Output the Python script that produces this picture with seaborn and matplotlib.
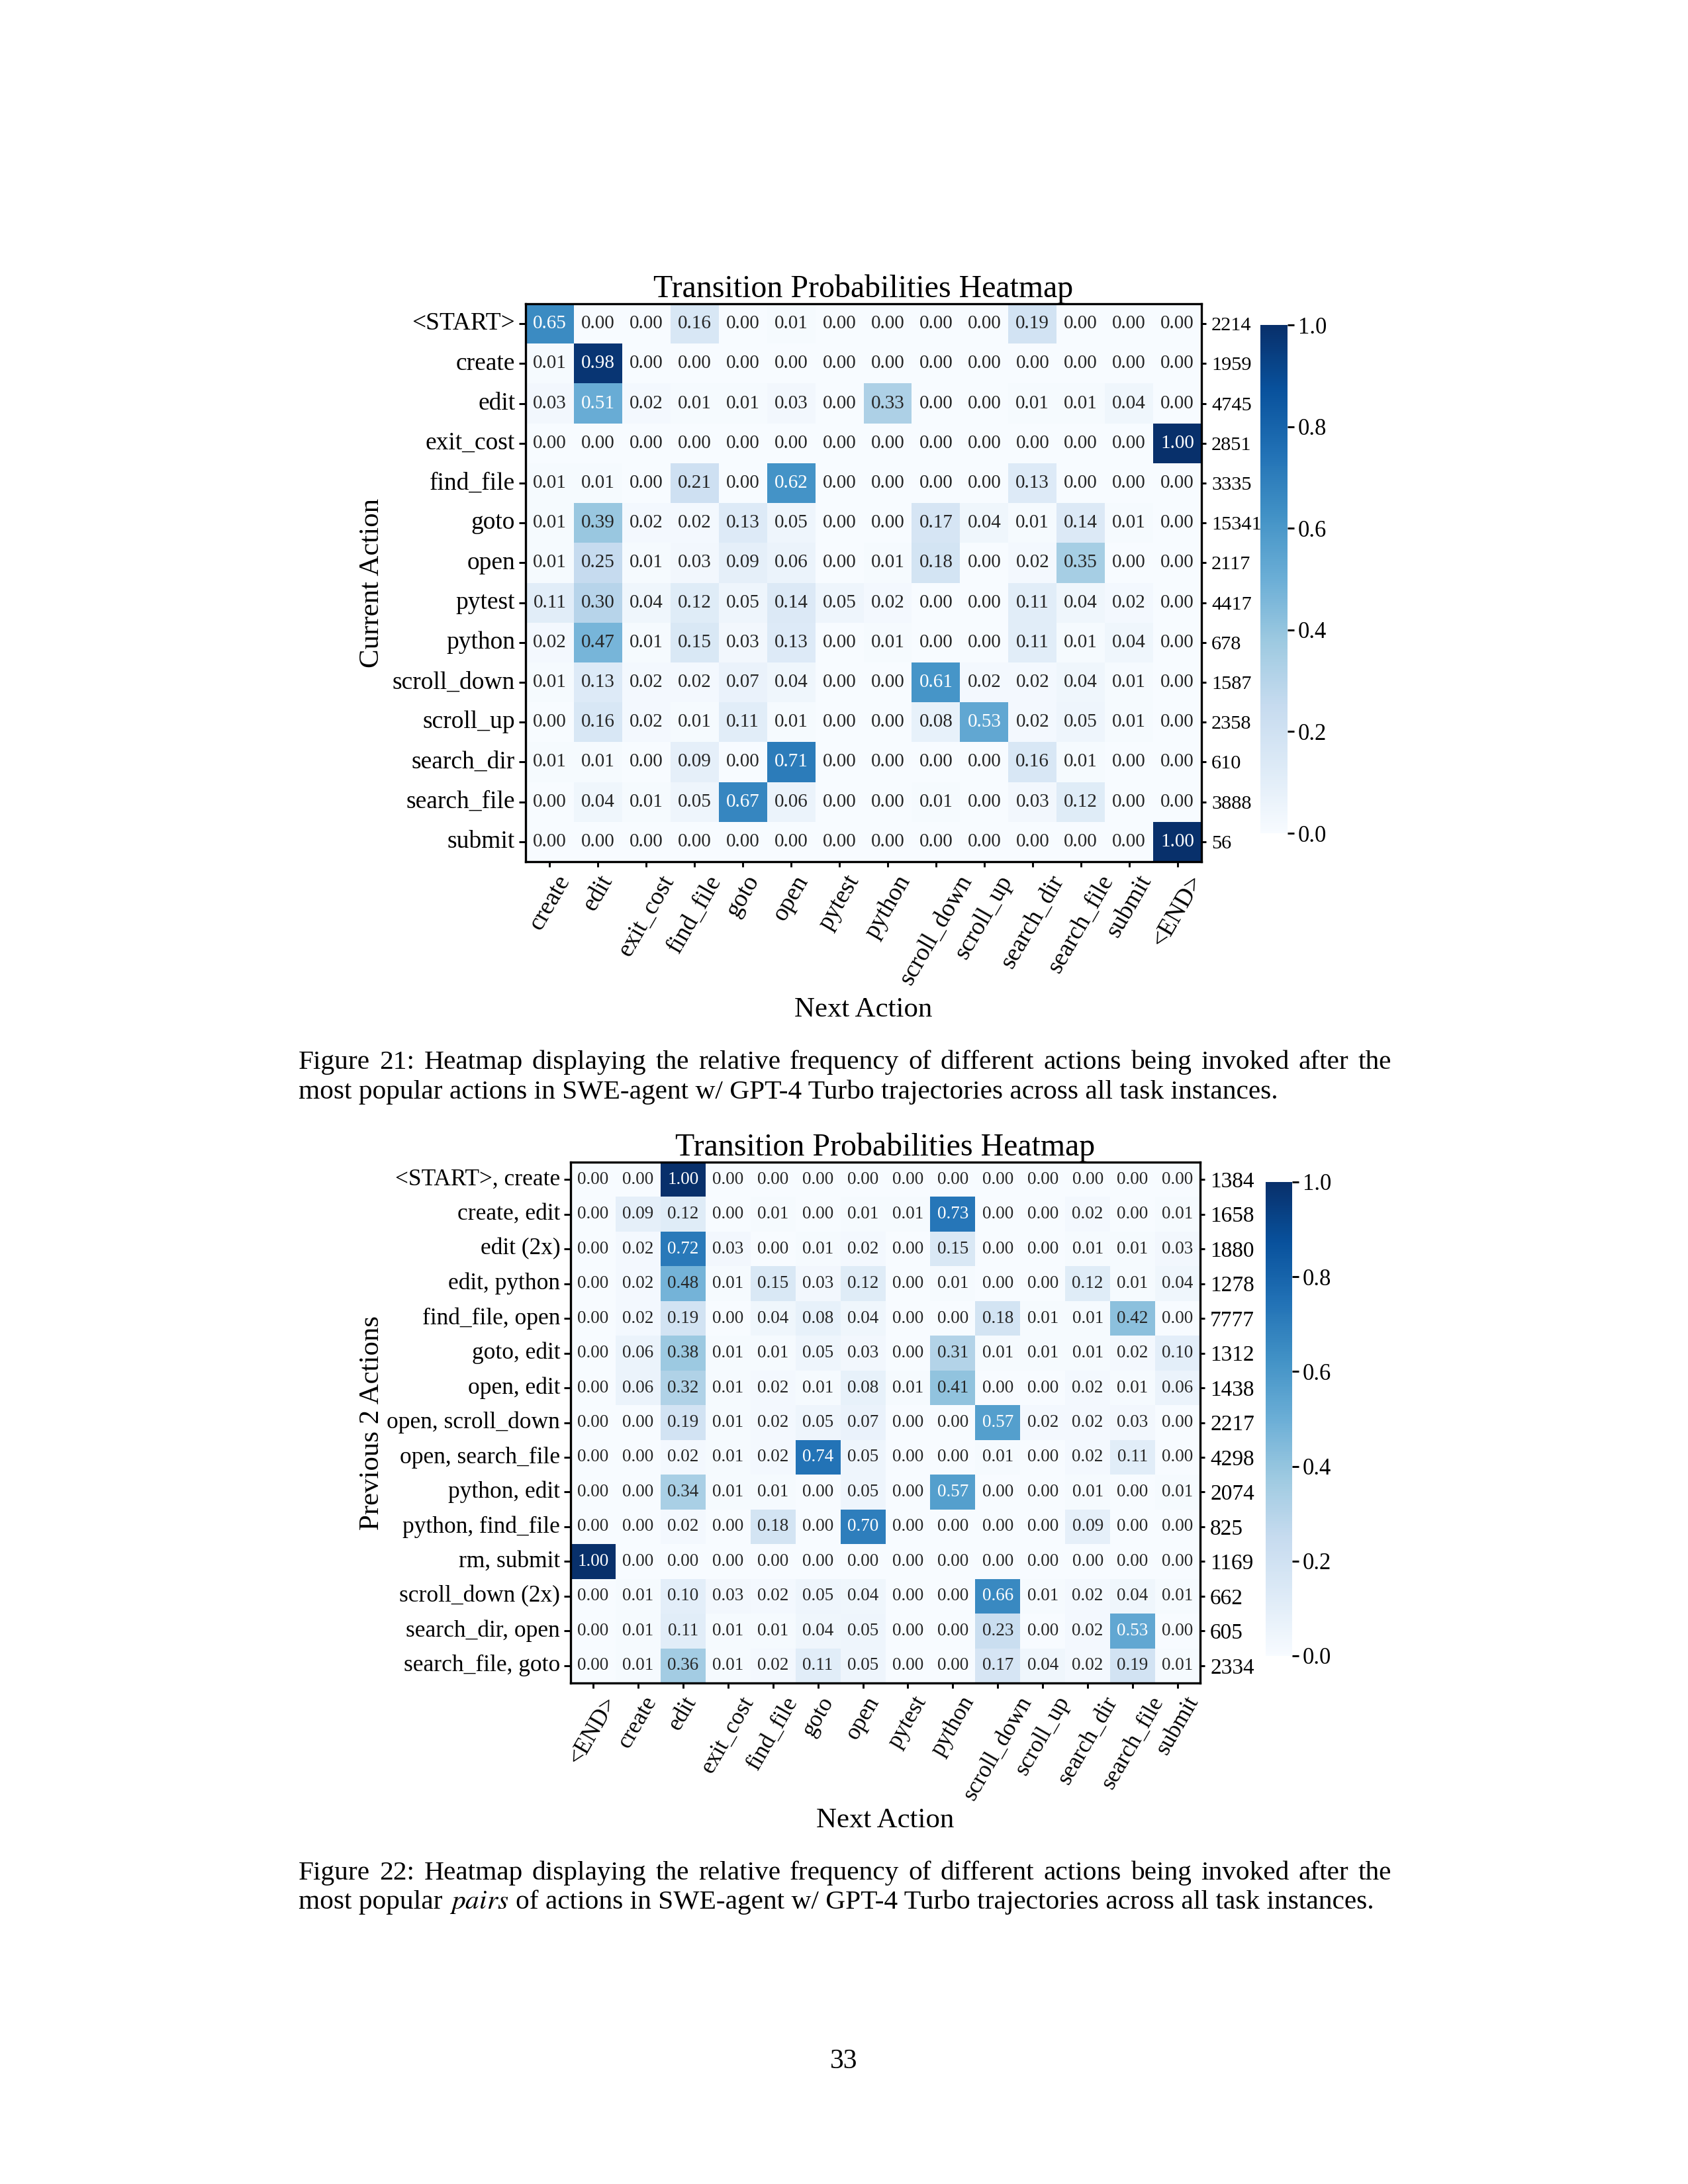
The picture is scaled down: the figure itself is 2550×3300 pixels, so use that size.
import numpy as np
import pandas as pd
import matplotlib
matplotlib.use("Agg")
import matplotlib.pyplot as plt
import seaborn as sns

plt.rcParams['font.family'] = ['Liberation Serif', 'DejaVu Serif']
plt.rcParams['mathtext.fontset'] = 'stix'

# ---------------- data: figure 21 ----------------
rows1 = ["<START>", "create", "edit", "exit_cost", "find_file", "goto", "open",
         "pytest", "python", "scroll_down", "scroll_up", "search_dir",
         "search_file", "submit"]
cols1 = ["create", "edit", "exit_cost", "find_file", "goto", "open", "pytest",
         "python", "scroll_down", "scroll_up", "search_dir", "search_file",
         "submit", "<END>"]
vals1 = [
    [0.65, 0.00, 0.00, 0.16, 0.00, 0.01, 0.00, 0.00, 0.00, 0.00, 0.19, 0.00, 0.00, 0.00],
    [0.01, 0.98, 0.00, 0.00, 0.00, 0.00, 0.00, 0.00, 0.00, 0.00, 0.00, 0.00, 0.00, 0.00],
    [0.03, 0.51, 0.02, 0.01, 0.01, 0.03, 0.00, 0.33, 0.00, 0.00, 0.01, 0.01, 0.04, 0.00],
    [0.00, 0.00, 0.00, 0.00, 0.00, 0.00, 0.00, 0.00, 0.00, 0.00, 0.00, 0.00, 0.00, 1.00],
    [0.01, 0.01, 0.00, 0.21, 0.00, 0.62, 0.00, 0.00, 0.00, 0.00, 0.13, 0.00, 0.00, 0.00],
    [0.01, 0.39, 0.02, 0.02, 0.13, 0.05, 0.00, 0.00, 0.17, 0.04, 0.01, 0.14, 0.01, 0.00],
    [0.01, 0.25, 0.01, 0.03, 0.09, 0.06, 0.00, 0.01, 0.18, 0.00, 0.02, 0.35, 0.00, 0.00],
    [0.11, 0.30, 0.04, 0.12, 0.05, 0.14, 0.05, 0.02, 0.00, 0.00, 0.11, 0.04, 0.02, 0.00],
    [0.02, 0.47, 0.01, 0.15, 0.03, 0.13, 0.00, 0.01, 0.00, 0.00, 0.11, 0.01, 0.04, 0.00],
    [0.01, 0.13, 0.02, 0.02, 0.07, 0.04, 0.00, 0.00, 0.61, 0.02, 0.02, 0.04, 0.01, 0.00],
    [0.00, 0.16, 0.02, 0.01, 0.11, 0.01, 0.00, 0.00, 0.08, 0.53, 0.02, 0.05, 0.01, 0.00],
    [0.01, 0.01, 0.00, 0.09, 0.00, 0.71, 0.00, 0.00, 0.00, 0.00, 0.16, 0.01, 0.00, 0.00],
    [0.00, 0.04, 0.01, 0.05, 0.67, 0.06, 0.00, 0.00, 0.01, 0.00, 0.03, 0.12, 0.00, 0.00],
    [0.00, 0.00, 0.00, 0.00, 0.00, 0.00, 0.00, 0.00, 0.00, 0.00, 0.00, 0.00, 0.00, 1.00],
]
counts1 = [2214, 1959, 4745, 2851, 3335, 15341, 2117, 4417, 678, 1587, 2358, 610, 3888, 56]

# ---------------- data: figure 22 ----------------
rows2 = ["<START>, create", "create, edit", "edit (2x)", "edit, python",
         "find_file, open", "goto, edit", "open, edit", "open, scroll_down",
         "open, search_file", "python, edit", "python, find_file", "rm, submit",
         "scroll_down (2x)", "search_dir, open", "search_file, goto"]
cols2 = ["<END>", "create", "edit", "exit_cost", "find_file", "goto", "open",
         "pytest", "python", "scroll_down", "scroll_up", "search_dir",
         "search_file", "submit"]
vals2 = [
    [0.00, 0.00, 1.00, 0.00, 0.00, 0.00, 0.00, 0.00, 0.00, 0.00, 0.00, 0.00, 0.00, 0.00],
    [0.00, 0.09, 0.12, 0.00, 0.01, 0.00, 0.01, 0.01, 0.73, 0.00, 0.00, 0.02, 0.00, 0.01],
    [0.00, 0.02, 0.72, 0.03, 0.00, 0.01, 0.02, 0.00, 0.15, 0.00, 0.00, 0.01, 0.01, 0.03],
    [0.00, 0.02, 0.48, 0.01, 0.15, 0.03, 0.12, 0.00, 0.01, 0.00, 0.00, 0.12, 0.01, 0.04],
    [0.00, 0.02, 0.19, 0.00, 0.04, 0.08, 0.04, 0.00, 0.00, 0.18, 0.01, 0.01, 0.42, 0.00],
    [0.00, 0.06, 0.38, 0.01, 0.01, 0.05, 0.03, 0.00, 0.31, 0.01, 0.01, 0.01, 0.02, 0.10],
    [0.00, 0.06, 0.32, 0.01, 0.02, 0.01, 0.08, 0.01, 0.41, 0.00, 0.00, 0.02, 0.01, 0.06],
    [0.00, 0.00, 0.19, 0.01, 0.02, 0.05, 0.07, 0.00, 0.00, 0.57, 0.02, 0.02, 0.03, 0.00],
    [0.00, 0.00, 0.02, 0.01, 0.02, 0.74, 0.05, 0.00, 0.00, 0.01, 0.00, 0.02, 0.11, 0.00],
    [0.00, 0.00, 0.34, 0.01, 0.01, 0.00, 0.05, 0.00, 0.57, 0.00, 0.00, 0.01, 0.00, 0.01],
    [0.00, 0.00, 0.02, 0.00, 0.18, 0.00, 0.70, 0.00, 0.00, 0.00, 0.00, 0.09, 0.00, 0.00],
    [1.00, 0.00, 0.00, 0.00, 0.00, 0.00, 0.00, 0.00, 0.00, 0.00, 0.00, 0.00, 0.00, 0.00],
    [0.00, 0.01, 0.10, 0.03, 0.02, 0.05, 0.04, 0.00, 0.00, 0.66, 0.01, 0.02, 0.04, 0.01],
    [0.00, 0.01, 0.11, 0.01, 0.01, 0.04, 0.05, 0.00, 0.00, 0.23, 0.00, 0.02, 0.53, 0.00],
    [0.00, 0.01, 0.36, 0.01, 0.02, 0.11, 0.05, 0.00, 0.00, 0.17, 0.04, 0.02, 0.19, 0.01],
]
counts2 = [1384, 1658, 1880, 1278, 7777, 1312, 1438, 2217, 4298, 2074, 825, 1169, 662, 605, 2334]

cbar_ticks = [0.0, 0.2, 0.4, 0.6, 0.8, 1.0]

title_text = "Transition Probabilities Heatmap"
caption1_l1 = "Figure 21: Heatmap displaying the relative frequency of different actions being invoked after the"
caption1_l2 = "most popular actions in SWE-agent w/ GPT-4 Turbo trajectories across all task instances."
caption2_l1 = "Figure 22: Heatmap displaying the relative frequency of different actions being invoked after the"
caption2_l2 = ["most popular", r"$\mathit{pairs}$",
               "of actions in SWE-agent w/ GPT-4 Turbo trajectories across all task instances."]

# ---------------- layout ----------------
W, H = 2550, 3300
fig = plt.figure(figsize=(W / 300, H / 300), dpi=300)


def rect(l, t, r, b):
    return [l / W, 1 - b / H, (r - l) / W, (b - t) / H]


def draw_heatmap(ax, cax, rows, cols, vals, counts, ylabel, annot_fs, lab_fs,
                 cnt_fs, xlab_y, ylab_x):
    df = pd.DataFrame(vals, index=rows, columns=cols)
    sns.heatmap(df, ax=ax, cbar_ax=cax, cmap="Blues", vmin=0, vmax=1,
                annot=True, fmt=".2f", annot_kws={"fontsize": annot_fs},
                cbar_kws={"ticks": cbar_ticks, "format": "%.1f"})
    for s in ax.spines.values():
        s.set_visible(True)
        s.set_linewidth(0.8)
        s.set_color("black")
    ax.set_xticks(np.arange(len(cols)) + 0.5)
    ax.set_xticklabels(cols, rotation=60, ha="center", fontsize=lab_fs)
    ax.set_yticks(np.arange(len(rows)) + 0.5)
    ax.set_yticklabels(rows, rotation=0, fontsize=lab_fs)
    ax.tick_params(axis="y", length=2.3, width=0.7, pad=1.5, left=True)
    ax.tick_params(axis="x", length=2.0, width=0.7, pad=1.5, bottom=True)
    ax.set_title(title_text, fontsize=11.5, pad=2.5)
    ax.set_xlabel("Next Action", fontsize=10.3)
    ax.set_ylabel(ylabel, fontsize=10.3)
    ax.xaxis.set_label_coords(0.5, xlab_y)
    ax.yaxis.set_label_coords(ylab_x, 0.5)

    ax2 = ax.twinx()
    ax2.set_ylim(ax.get_ylim())
    ax2.set_yticks(np.arange(len(rows)) + 0.5)
    ax2.set_yticklabels([str(c) for c in counts], fontsize=cnt_fs)
    ax2.tick_params(axis="y", length=1.6, width=0.7, pad=2.0)
    for s in ax2.spines.values():
        s.set_visible(False)

    cb = ax.collections[0].colorbar
    cb.outline.set_visible(False)
    cb.ax.tick_params(labelsize=8.3, length=2.3, width=0.7, pad=1.5)


ax1 = fig.add_axes(rect(794, 459, 1815, 1302))
cax1 = fig.add_axes(rect(1904, 491, 1945, 1259))
draw_heatmap(ax1, cax1, rows1, cols1, vals1, counts1, "Current Action",
             7.0, 9.0, 7.3, -0.243, -0.209)

ax3 = fig.add_axes(rect(862, 1756, 1813, 2543))
cax3 = fig.add_axes(rect(1912, 1786, 1952, 2502))
draw_heatmap(ax3, cax3, rows2, cols2, vals2, counts2, "Previous 2 Actions",
             6.5, 8.5, 8.0, -0.240, -0.2955)

# ---------------- captions ----------------
cap_left = 451
full_w = 1651        # justified first lines
natural_w = 1477     # natural width of the last line of caption 21
fig.canvas.draw()
renderer = fig.canvas.get_renderer()

probe = fig.text(0, 0, caption1_l2, fontsize=10)
pw = probe.get_window_extent(renderer).width
probe.remove()
cap_fs = 10 * natural_w / pw
space_px = 0.25 * cap_fs * 300 / 72


def justified(text, y_px):
    words = text.split(" ")
    objs = [fig.text(0, 1 - y_px / H, w, fontsize=cap_fs, va="baseline", ha="left")
            for w in words]
    widths = [o.get_window_extent(renderer).width for o in objs]
    gap = (full_w - sum(widths)) / (len(words) - 1)
    x = cap_left
    for o, w in zip(objs, widths):
        o.set_x(x / W)
        x += w + gap


def natural(pieces, y_px):
    x = cap_left
    for p in pieces:
        t = fig.text(x / W, 1 - y_px / H, p, fontsize=cap_fs, va="baseline", ha="left")
        x += t.get_window_extent(renderer).width + space_px


justified(caption1_l1, 1615)
natural([caption1_l2], 1660)
justified(caption2_l1, 2840)
natural(caption2_l2, 2884)

fig.text(1275 / W, 1 - 3125 / H, "33", fontsize=10, va="baseline", ha="center")

fig.savefig("out.png", dpi=300)
